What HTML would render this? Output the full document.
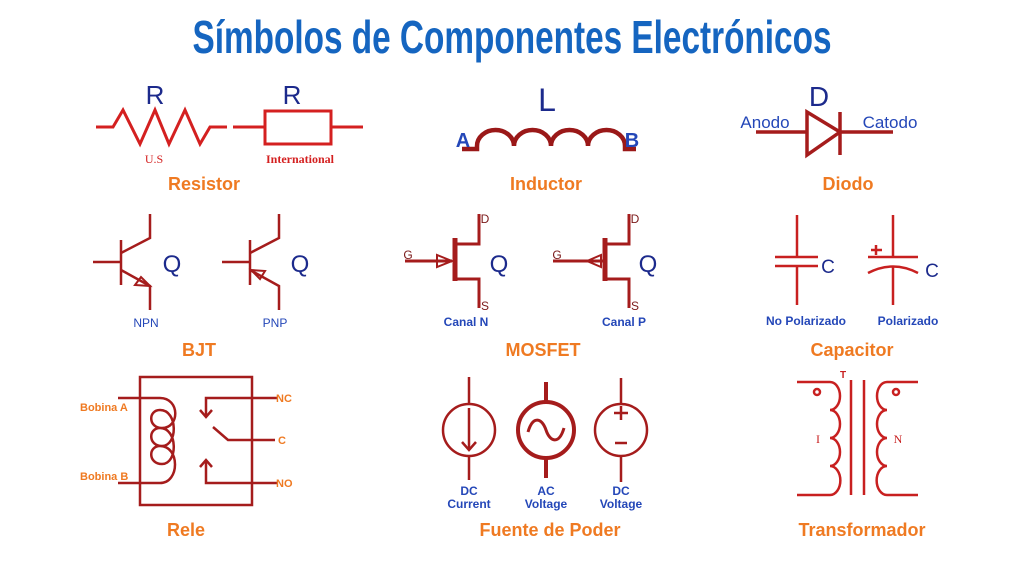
<!DOCTYPE html>
<html><head><meta charset="utf-8"><style>
html,body{margin:0;padding:0;background:#fff;}
svg{display:block;}
.o{font-family:"Liberation Sans",sans-serif;font-weight:bold;fill:#ef7a22;font-size:18px;text-anchor:middle;}
.b{font-family:"Liberation Sans",sans-serif;font-weight:bold;fill:#2447b8;font-size:12px;text-anchor:middle;}
.q{font-family:"Liberation Sans",sans-serif;fill:#1c2a8c;text-anchor:middle;}
.r{stroke:#a51c1c;stroke-width:2.5;fill:none;}
</style></head><body>
<svg width="1024" height="576" viewBox="0 0 1024 576" xmlns="http://www.w3.org/2000/svg">
<text x="512" y="53" text-anchor="middle" textLength="639" lengthAdjust="spacingAndGlyphs" style="font-family:'Liberation Sans Narrow','Liberation Sans',sans-serif;font-weight:bold;font-size:46px;fill:#1565c0">Símbolos de Componentes Electrónicos</text>

<!-- Resistor -->
<g stroke="#d42020" stroke-width="3" fill="none">
<polyline points="96,127 113,127 123,110 140,144 155,110 169,144 185,110 200,144 210,127 227,127"/>
<line x1="233" y1="127" x2="265" y2="127"/>
<rect x="265" y="111" width="66" height="33"/>
<line x1="331" y1="127" x2="363" y2="127"/>
</g>
<text class="q" x="155" y="104" font-size="26">R</text>
<text class="q" x="292" y="104" font-size="26">R</text>
<text x="154" y="163" text-anchor="middle" style="font-family:'Liberation Serif',serif;font-size:12px;fill:#d42020">U.S</text>
<text x="300" y="163" text-anchor="middle" style="font-family:'Liberation Serif',serif;font-weight:bold;font-size:12px;fill:#d42020">International</text>
<text class="o" x="204" y="190">Resistor</text>

<!-- Inductor -->
<path class="r" style="stroke-width:4.5;stroke:#9a1818" d="M462,149 L477,149 L477,146 A18.5,16 0 0 1 514,146 A18.5,16 0 0 1 551,146 A18.5,16 0 0 1 588,146 A18.5,16 0 0 1 625,146 L625,149 L636,149"/>
<text class="q" x="547" y="111" font-size="32">L</text>
<text x="463" y="147" text-anchor="middle" style="font-family:'Liberation Sans',sans-serif;font-weight:bold;font-size:20px;fill:#2447b8">A</text>
<text x="632" y="147" text-anchor="middle" style="font-family:'Liberation Sans',sans-serif;font-weight:bold;font-size:20px;fill:#2447b8">B</text>
<text class="o" x="546" y="190">Inductor</text>

<!-- Diode -->
<g class="r" style="stroke-width:3.5">
<line x1="756" y1="132" x2="807" y2="132"/>
<polygon points="807,112 840,132 807,155"/>
<line x1="840" y1="112" x2="840" y2="155"/>
<line x1="840" y1="132" x2="893" y2="132"/>
</g>
<text class="q" x="819" y="106" font-size="28">D</text>
<text x="765" y="128" text-anchor="middle" style="font-family:'Liberation Sans',sans-serif;font-size:17px;fill:#2447b8">Anodo</text>
<text x="890" y="128" text-anchor="middle" style="font-family:'Liberation Sans',sans-serif;font-size:17px;fill:#2447b8">Catodo</text>
<text class="o" x="848" y="190">Diodo</text>

<!-- BJT NPN -->
<g class="r">
<line x1="93" y1="262" x2="121" y2="262"/>
<line x1="121" y1="240" x2="121" y2="285"/>
<polyline points="121,253 150,238 150,214"/>
<polyline points="121,270 150,286 150,310"/>
<polygon points="150,286 135,285 141,277" style="stroke-width:2"/>
</g>
<text class="q" x="172" y="272" font-size="24">Q</text>
<text class="b" x="146" y="327" style="font-weight:normal">NPN</text>
<!-- PNP -->
<g class="r">
<line x1="222" y1="262" x2="250" y2="262"/>
<line x1="250" y1="240" x2="250" y2="285"/>
<polyline points="250,253 279,238 279,214"/>
<polyline points="250,270 279,286 279,310"/>
<polygon points="251,270 265,271 260,279" style="stroke-width:2"/>
</g>
<text class="q" x="300" y="272" font-size="24">Q</text>
<text class="b" x="275" y="327" style="font-weight:normal">PNP</text>
<text class="o" x="199" y="356">BJT</text>

<!-- MOSFET N -->
<g class="r" style="stroke-width:3">
<line x1="405" y1="261" x2="452" y2="261"/>
<line x1="455" y1="238" x2="455" y2="281" style="stroke-width:5"/>
<polyline points="456,244 479,244 479,214"/>
<polyline points="456,279 479,279 479,308"/>
<polygon points="452,261 437,255 437,267" style="stroke-width:2"/>
</g>
<text x="408" y="259" text-anchor="middle" style="font-family:'Liberation Sans',sans-serif;font-size:12px;fill:#7a1818">G</text>
<text x="485" y="223" text-anchor="middle" style="font-family:'Liberation Sans',sans-serif;font-size:12px;fill:#7a1818">D</text>
<text x="485" y="310" text-anchor="middle" style="font-family:'Liberation Sans',sans-serif;font-size:12px;fill:#7a1818">S</text>
<text class="q" x="499" y="272" font-size="24">Q</text>
<text class="b" x="466" y="326">Canal N</text>
<!-- MOSFET P -->
<g class="r" style="stroke-width:3">
<line x1="553" y1="261" x2="603" y2="261"/>
<line x1="605" y1="238" x2="605" y2="281" style="stroke-width:5"/>
<polyline points="606,244 629,244 629,214"/>
<polyline points="606,279 629,279 629,308"/>
<polygon points="587,261 601,255 601,267" style="stroke-width:2"/>
</g>
<text x="557" y="259" text-anchor="middle" style="font-family:'Liberation Sans',sans-serif;font-size:12px;fill:#7a1818">G</text>
<text x="635" y="223" text-anchor="middle" style="font-family:'Liberation Sans',sans-serif;font-size:12px;fill:#7a1818">D</text>
<text x="635" y="310" text-anchor="middle" style="font-family:'Liberation Sans',sans-serif;font-size:12px;fill:#7a1818">S</text>
<text class="q" x="648" y="272" font-size="24">Q</text>
<text class="b" x="624" y="326">Canal P</text>
<text class="o" x="543" y="356">MOSFET</text>

<!-- Capacitor -->
<g stroke="#c82020" stroke-width="2.5" fill="none">
<line x1="797" y1="215" x2="797" y2="257"/>
<line x1="775" y1="257" x2="818" y2="257"/>
<line x1="775" y1="266" x2="818" y2="266"/>
<line x1="797" y1="266" x2="797" y2="305"/>
<line x1="893" y1="215" x2="893" y2="257"/>
<line x1="868" y1="257" x2="918" y2="257"/>
<path d="M868,273 Q893,260 918,273"/>
<line x1="893" y1="266" x2="893" y2="305"/>
<line x1="871" y1="250" x2="882" y2="250"/>
<line x1="876" y1="245" x2="876" y2="255"/>
</g>
<text class="q" x="828" y="273" font-size="19">C</text>
<text class="q" x="932" y="277" font-size="19">C</text>
<text class="b" x="806" y="325">No Polarizado</text>
<text class="b" x="908" y="325">Polarizado</text>
<text class="o" x="852" y="356">Capacitor</text>

<!-- Relay -->
<g class="r">
<rect x="140" y="377" width="112" height="128"/>
<path d="M118,398 L160,398 C180,398 180,428 162,428 C148,428 148,410 160,410 C178,410 178,446 162,446 C148,446 148,428 160,428 C178,428 178,464 162,464 C148,464 148,446 160,446 C180,446 180,483 160,483 L118,483"/>
<polyline points="277,398 206,398 206,416"/>
<polyline points="200,410 206,417 212,410"/>
<polyline points="213,427 228,440 275,440"/>
<polyline points="277,483 206,483 206,460"/>
<polyline points="200,467 206,460 212,467"/>
</g>
<g style="font-family:'Liberation Sans',sans-serif;font-weight:bold;font-size:11px;fill:#ef7a22">
<text x="80" y="411">Bobina A</text>
<text x="80" y="480">Bobina B</text>
<text x="276" y="402">NC</text>
<text x="278" y="444">C</text>
<text x="276" y="487">NO</text>
</g>
<text class="o" x="186" y="536">Rele</text>

<!-- Sources -->
<g class="r">
<line x1="469" y1="377" x2="469" y2="404"/>
<circle cx="469" cy="430" r="26"/>
<line x1="469" y1="456" x2="469" y2="480"/>
<line x1="469" y1="408" x2="469" y2="449"/>
<polyline points="462,442 469,450 476,442"/>
<line x1="546" y1="382" x2="546" y2="402" style="stroke-width:4"/>
<circle cx="546" cy="430" r="28" style="stroke-width:4"/>
<line x1="546" y1="458" x2="546" y2="478" style="stroke-width:4"/>
<path d="M528,432 C533,415 542,418 546,430 C550,442 559,445 564,428" style="stroke-width:3"/>
<line x1="621" y1="378" x2="621" y2="404"/>
<circle cx="621" cy="430" r="26"/>
<line x1="621" y1="456" x2="621" y2="482"/>
<line x1="614" y1="413" x2="628" y2="413"/>
<line x1="621" y1="406" x2="621" y2="420"/>
<line x1="615" y1="443" x2="627" y2="443"/>
</g>
<text class="b" x="469" y="495">DC</text><text class="b" x="469" y="508">Current</text>
<text class="b" x="546" y="495">AC</text><text class="b" x="546" y="508">Voltage</text>
<text class="b" x="621" y="495">DC</text><text class="b" x="621" y="508">Voltage</text>
<text class="o" x="550" y="536">Fuente de Poder</text>

<!-- Transformer -->
<g stroke="#c82020" stroke-width="2.5" fill="none">
<line x1="851" y1="380" x2="851" y2="495"/>
<line x1="864" y1="380" x2="864" y2="495"/>
<path d="M797,382 L830,382 A10,14 0 0 1 830,410 A10,14 0 0 1 830,438 A10,14 0 0 1 830,466 A10,14 0 0 1 830,495 L797,495"/>
<path d="M918,382 L887,382 A10,14 0 0 0 887,410 A10,14 0 0 0 887,438 A10,14 0 0 0 887,466 A10,14 0 0 0 887,495 L918,495"/>
<circle cx="817" cy="392" r="3"/>
<circle cx="896" cy="392" r="3"/>
</g>
<text x="843" y="378" text-anchor="middle" style="font-family:'Liberation Sans',sans-serif;font-weight:bold;font-size:10px;fill:#c82020">T</text>
<text x="818" y="443" text-anchor="middle" style="font-family:'Liberation Serif',serif;font-size:12px;fill:#c82020">I</text>
<text x="898" y="443" text-anchor="middle" style="font-family:'Liberation Serif',serif;font-size:12px;fill:#c82020">N</text>
<text class="o" x="862" y="536">Transformador</text>
</svg>
</body></html>
